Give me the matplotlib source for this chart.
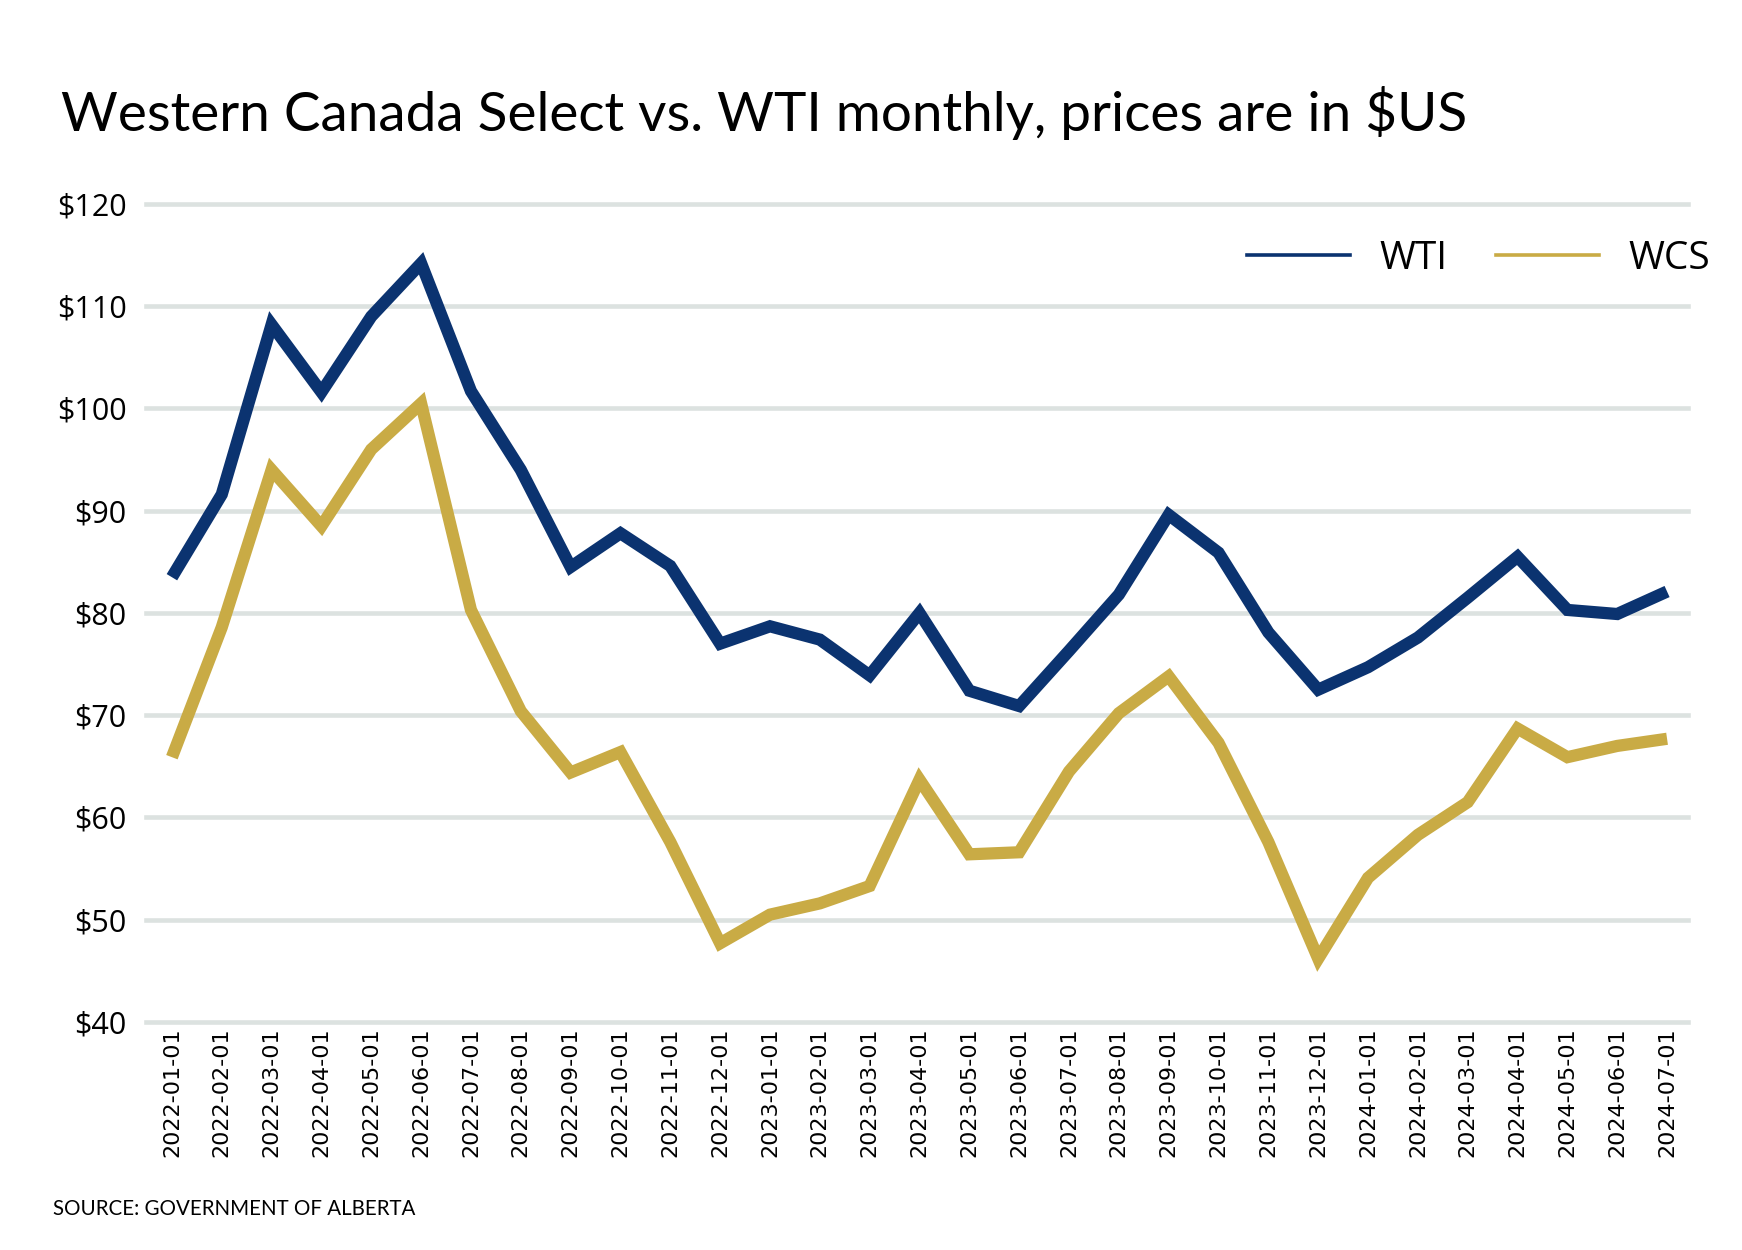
import matplotlib
matplotlib.use("Agg")
import matplotlib.pyplot as plt
from matplotlib import font_manager

months = ["2022-01-01", "2022-02-01", "2022-03-01", "2022-04-01", "2022-05-01", "2022-06-01",
          "2022-07-01", "2022-08-01", "2022-09-01", "2022-10-01", "2022-11-01", "2022-12-01",
          "2023-01-01", "2023-02-01", "2023-03-01", "2023-04-01", "2023-05-01", "2023-06-01",
          "2023-07-01", "2023-08-01", "2023-09-01", "2023-10-01", "2023-11-01", "2023-12-01",
          "2024-01-01", "2024-02-01", "2024-03-01", "2024-04-01", "2024-05-01", "2024-06-01",
          "2024-07-01"]
wti = [83.5, 91.6, 108.2, 101.6, 109.0, 114.2, 101.7, 94.0, 84.5, 87.8, 84.6, 77.0,
       78.7, 77.4, 73.9, 80.0, 72.4, 70.9, 76.3, 81.8, 89.6, 85.9, 78.1, 72.5,
       74.7, 77.6, 81.5, 85.5, 80.3, 79.9, 82.1]
wcs = [65.9, 78.6, 94.0, 88.5, 96.0, 100.5, 80.3, 70.4, 64.4, 66.4, 57.6, 47.7,
       50.5, 51.6, 53.3, 63.7, 56.4, 56.6, 64.5, 70.2, 73.8, 67.3, 57.6, 46.2,
       54.1, 58.3, 61.5, 68.7, 65.9, 67.0, 67.7]
yticks = [40, 50, 60, 70, 80, 90, 100, 110, 120]
ytick_labels = ["$40", "$50", "$60", "$70", "$80", "$90", "$100", "$110", "$120"]

title = "Western Canada Select vs. WTI monthly, prices are in $US"
source = "SOURCE: GOVERNMENT OF ALBERTA"

avail = {f.name for f in font_manager.fontManager.ttflist}
narrow = "Liberation Sans Narrow" if "Liberation Sans Narrow" in avail else "Lato"
base = "Open Sans" if "Open Sans" in avail else "DejaVu Sans"

WTI_C = "#0b3370"
WCS_C = "#c9ab45"
GRID_C = "#dce2e0"

W, H = 1742, 1250
fig = plt.figure(figsize=(W / 100, H / 100), dpi=100)
fig.patch.set_facecolor("white")
ax = fig.add_axes([146 / W, 1 - 1022 / H, (1688 - 146) / W, (1022 - 204) / H])

x = list(range(len(months)))
ax.plot(x, wti, color=WTI_C, lw=8.8, solid_joinstyle="miter", solid_capstyle="butt",
        label="WTI", zorder=3)
ax.plot(x, wcs, color=WCS_C, lw=8.8, solid_joinstyle="miter", solid_capstyle="butt",
        label="WCS", zorder=3)

ax.set_xlim(-0.52, len(months) - 1 + 0.42)
ax.set_ylim(40, 120)
ax.set_yticks(yticks)
ax.set_yticklabels(ytick_labels, fontfamily=base, fontsize=22)
ax.set_xticks(x)
ax.set_xticklabels(months, rotation=90, fontfamily="DejaVu Sans", fontsize=16)
ax.tick_params(axis="both", length=0, colors="black")
ax.tick_params(axis="y", pad=14)
ax.tick_params(axis="x", pad=4)
for s in ax.spines.values():
    s.set_visible(False)
for v in yticks:
    ax.axhline(v, color=GRID_C, lw=3.3, zorder=1, clip_on=False)

fig.text(61 / W, 1 - 131 / H, title, fontfamily=narrow, fontsize=39.5, ha="left",
         va="baseline", color="black")
fig.text(53 / W, 1 - 1215 / H, source, fontfamily=narrow, fontsize=14.8, ha="left",
         va="baseline", color="black")

leg_handles = [plt.Line2D([], [], color=WTI_C, lw=2.6),
               plt.Line2D([], [], color=WCS_C, lw=2.6)]
leg = fig.legend(leg_handles, ["WTI", "WCS"], loc="center left",
                 bbox_to_anchor=(1247 / W, 1 - 259 / H), ncol=2, frameon=False,
                 prop={"family": base, "size": 28}, handlelength=2.65,
                 handletextpad=0.75, columnspacing=1.25, borderpad=0, borderaxespad=0)

fig.savefig("out.png", dpi=100, facecolor="white")
